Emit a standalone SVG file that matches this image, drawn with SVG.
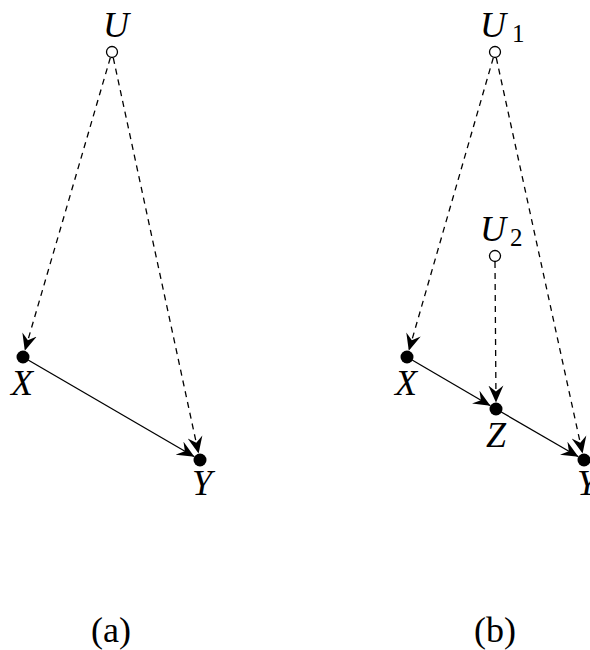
<svg xmlns="http://www.w3.org/2000/svg" width="590" height="650" viewBox="0 0 590 650">
<style>
.lbl{font-family:"Liberation Serif",serif;font-style:italic;font-size:36px;text-anchor:middle;fill:#000}
.sub{font-family:"Liberation Serif",serif;font-size:25px;fill:#000}
.cap{font-family:"Liberation Serif",serif;font-size:36px;text-anchor:middle;fill:#000}
.open{fill:#fff;stroke:#000;stroke-width:1.3}
.obs{fill:#000}
.dash{stroke:#000;stroke-width:1.3;fill:none;stroke-dasharray:6,5}
.solid{stroke:#000;stroke-width:1.3;fill:none}
</style>
<defs>
<marker id="ah" markerUnits="userSpaceOnUse" markerWidth="18" markerHeight="16" viewBox="0 0 18 16" refX="17" refY="8" orient="auto">
<path d="M17,8 L0,0.5 L6,8 L0,15.5 Z" fill="#000"/>
</marker>
</defs>
<g id="connectors">
<line class="dash" x1="110.3" y1="57.8" x2="24.8" y2="350.8" marker-end="url(#ah)"/>
<line class="dash" x1="113.3" y1="57.9" x2="198.6" y2="453.6" marker-end="url(#ah)"/>
<line class="solid" x1="23" y1="357" x2="194.4" y2="456.7" marker-end="url(#ah)"/>
<line class="dash" x1="493.3" y1="57.8" x2="408.8" y2="350.8" marker-end="url(#ah)"/>
<line class="dash" x1="496.3" y1="57.9" x2="582.6" y2="453.6" marker-end="url(#ah)"/>
<line class="dash" x1="495" y1="262" x2="496" y2="402.5" marker-end="url(#ah)"/>
<line class="solid" x1="407" y1="357" x2="490.4" y2="405.7" marker-end="url(#ah)"/>
<line class="solid" x1="496" y1="409" x2="578.4" y2="456.7" marker-end="url(#ah)"/>
</g>
<g id="a-U"><circle class="open" cx="112" cy="52" r="5.5"/><text class="lbl" x="116" y="37">U</text></g>
<g id="a-X"><circle class="obs" cx="23" cy="357" r="6.5"/><text class="lbl" x="22" y="395">X</text></g>
<g id="a-Y"><circle class="obs" cx="200" cy="460" r="6.5"/><text class="lbl" x="202" y="495">Y</text></g>
<g id="b-U1"><circle class="open" cx="495" cy="52" r="5.5"/><text class="lbl" x="493" y="37">U</text><text class="sub" x="512" y="42">1</text></g>
<g id="b-U2"><circle class="open" cx="495" cy="256" r="5.5"/><text class="lbl" x="493" y="241">U</text><text class="sub" x="510" y="246">2</text></g>
<g id="b-X"><circle class="obs" cx="407" cy="357" r="6.5"/><text class="lbl" x="406" y="395">X</text></g>
<g id="b-Z"><circle class="obs" cx="496" cy="409" r="6.5"/><text class="lbl" x="496" y="447">Z</text></g>
<g id="b-Y"><circle class="obs" cx="584" cy="460" r="6.5"/><text class="lbl" x="587" y="495">Y</text></g>
<g id="captions"><text class="cap" x="111" y="642">(a)</text><text class="cap" x="495" y="642">(b)</text></g>
</svg>
